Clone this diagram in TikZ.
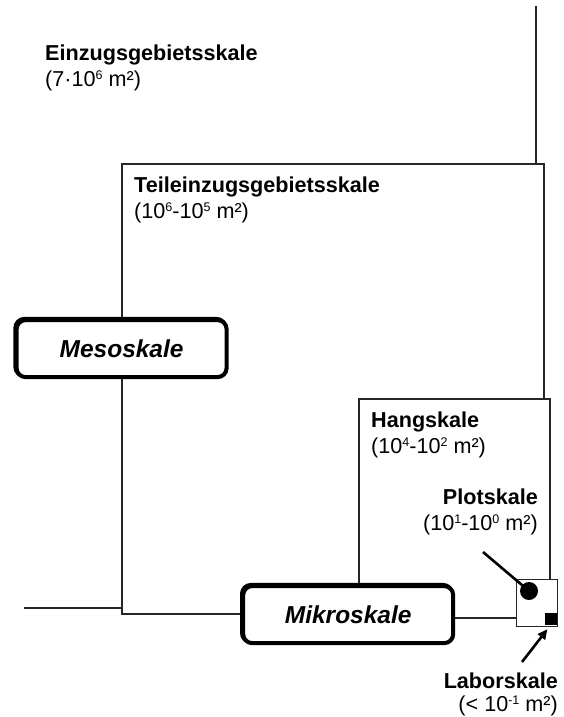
\documentclass[tikz,border=0pt]{standalone}
\usepackage{fontspec}
\setmainfont{Liberation Sans}
\usetikzlibrary{arrows.meta}
\newcommand\expo[1]{\raisebox{7pt}{\fontsize{12.5}{13}\selectfont #1}}
\begin{document}
\begin{tikzpicture}[x=1pt,y=-1pt,
  region/.style={draw=black!85, line width=1.2pt, fill=white},
  edgeline/.style={draw=black!85, line width=1.2pt},
  scalebox/.style={draw=black, line width=4pt, rounded corners=9pt, fill=white,
    minimum width=210pt, minimum height=57pt, inner sep=0pt,
    font=\fontsize{24.5}{28}\selectfont\bfseries\itshape,
    preaction={draw=black, line width=4pt, rounded corners=9pt,
      transform canvas={shift={(-1.2pt,1.2pt)}}}},
  lbltitle/.style={anchor=base west, inner sep=0pt, font=\fontsize{21.6}{26}\selectfont\bfseries},
  lblrange/.style={anchor=base west, inner sep=0pt, font=\fontsize{21.6}{26}\selectfont},
  lbltitleR/.style={lbltitle, anchor=base east},
  lblrangeR/.style={lblrange, anchor=base east},
  pointer/.style={draw=black, line width=2.6pt},
]
\useasboundingbox (0,0) rectangle (563,717);
% Einzugsgebiet: only its right and bottom edges show
\coordinate (ezgBL) at (24,608);
\coordinate (ezgTR) at (536,6);
\draw[edgeline] (ezgBL) -| (ezgTR);
% Teileinzugsgebiet
\draw[region] (122,164) rectangle (544,614);
% Hang
\draw[region] (359,399) rectangle (550,618);
% scale boxes
\node[scalebox] (meso) at (121.6,348.6) {Mesoskale};
\node[scalebox] (mikro) at (348.2,614.6) {Mikroskale};
% plot box
\node[draw=black!85, line width=1.2pt, fill=white, minimum width=41pt, minimum height=47pt, inner sep=0pt] (plot) at (537,603) {};
\node[fill=black, minimum size=12pt, inner sep=0pt] (labsq) at (550.5,619) {};
\node[circle, fill=black, minimum size=18pt, inner sep=0pt] (plotdot) at (529,591) {};
% pointers
\coordinate (plottail) at (483,552);
\draw[pointer] (plottail) -- (plotdot.center);
\coordinate (labtail) at (522,662);
\draw[pointer, -{Triangle[length=10pt,width=9pt]}, shorten >=5pt] (labtail) -- (labsq.south);
% labels
\node[lbltitle] (ezg) at (45,60.5) {Einzugsgebietsskale};
\node[lblrange] (ezgR) at (45,86.5) {(7·10\expo{6} m²)};
\node[lbltitle] (teg) at (134,192.5) {Teileinzugsgebietsskale};
\node[lblrange] (tegR) at (134,218.5) {(10\expo{6}-10\expo{5} m²)};
\node[lbltitle] (hang) at (371,427) {Hangskale};
\node[lblrange] (hangR) at (371,453) {(10\expo{4}-10\expo{2} m²)};
\node[lbltitleR] (plotT) at (538,504.5) {Plotskale};
\node[lblrangeR] (plotR) at (538,530.5) {(10\expo{1}-10\expo{0} m²)};
\node[lbltitleR] (lab) at (558,688) {Laborskale};
\node[lblrangeR] (labR) at (558,711) {(< 10\expo{-1} m²)};
\end{tikzpicture}
\end{document}
